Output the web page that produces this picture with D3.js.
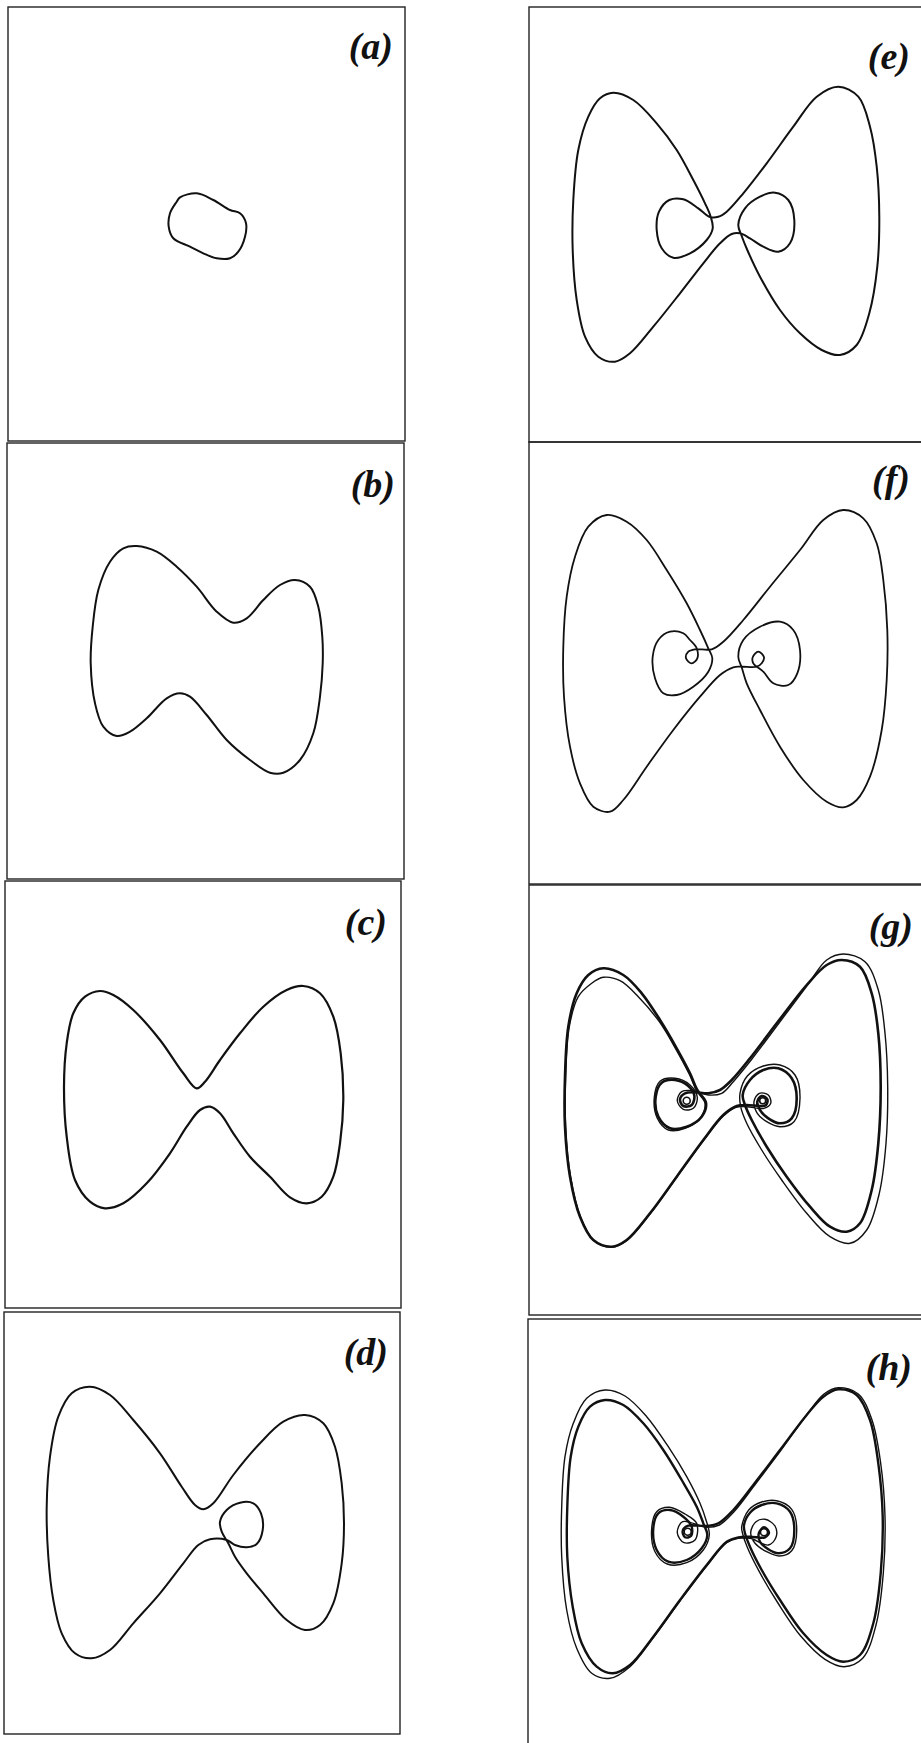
<!DOCTYPE html>
<html>
<head>
<meta charset="utf-8">
<script src="https://cdn.jsdelivr.net/npm/d3@7"></script>
<style>
  body { margin: 0; background: #fff; }
  svg { display: block; }
</style>
</head>
<body>
<svg id="fig" width="921" height="1743"></svg>
<script>
// Phase-plane orbits, one array per panel, in state-space units (x, y), y up.
const panelLabels = ["(a)", "(b)", "(c)", "(d)", "(e)", "(f)", "(g)", "(h)"];

const orbitA = [[-0.265,0.267],[-0.098,0.307],[0.068,0.24],[0.235,0.14],[0.335,0.107],[0.395,0.007],
  [0.385,-0.127],[0.318,-0.277],[0.235,-0.343],[0.102,-0.343],[-0.032,-0.293],[-0.165,-0.227],
  [-0.332,-0.143],[-0.378,-0.027],[-0.365,0.107],[-0.298,0.223]];

const orbitB = [[-0.688,1.15],[-0.488,1.093],[-0.288,0.943],[-0.088,0.743],[0.112,0.493],[0.278,0.383],
  [0.412,0.427],[0.578,0.61],[0.745,0.76],[0.895,0.81],[1.045,0.743],[1.128,0.543],[1.168,0.243],
  [1.172,-0.023],[1.145,-0.357],[1.078,-0.723],[0.945,-0.99],[0.778,-1.117],[0.645,-1.117],[0.445,-0.99],
  [0.212,-0.79],[0.012,-0.54],[-0.155,-0.357],[-0.255,-0.323],[-0.388,-0.373],[-0.588,-0.573],
  [-0.755,-0.707],[-0.888,-0.75],[-1.022,-0.657],[-1.105,-0.423],[-1.148,-0.023],[-1.128,0.343],
  [-1.072,0.71],[-0.955,0.993],[-0.822,1.127]];

const orbitC = [[-0.063,0.062],[-0.197,0.212],[-0.43,0.545],[-0.697,0.845],[-0.897,0.995],[-1.03,1.035],
  [-1.18,0.978],[-1.297,0.812],[-1.363,0.512],[-1.39,0.078],[-1.363,-0.422],[-1.28,-0.855],[-1.13,-1.072],
  [-0.98,-1.138],[-0.797,-1.088],[-0.563,-0.888],[-0.33,-0.588],[-0.163,-0.322],[-0.03,-0.155],
  [0.07,-0.122],[0.17,-0.188],[0.303,-0.388],[0.47,-0.622],[0.67,-0.822],[0.87,-1.028],[1.037,-1.088],
  [1.187,-1.022],[1.303,-0.822],[1.37,-0.488],[1.403,-0.055],[1.377,0.412],[1.303,0.778],[1.17,1.012],
  [1.003,1.085],[0.837,1.045],[0.603,0.878],[0.37,0.612],[0.17,0.345],[0.02,0.128]];

const orbitD = [[-1.12,1.363],[-0.92,1.28],[-0.687,1.03],[-0.42,0.697],[-0.203,0.363],[-0.07,0.18],
  [0.013,0.137],[0.113,0.197],[0.313,0.48],[0.58,0.797],[0.813,1.013],[1.03,1.08],[1.213,0.997],
  [1.33,0.763],[1.397,0.397],[1.42,-0.003],[1.397,-0.403],[1.313,-0.803],[1.18,-1.02],[1.03,-1.07],
  [0.847,-0.97],[0.613,-0.703],[0.447,-0.503],[0.33,-0.337],[0.263,-0.203],[0.197,-0.087],[0.18,0.013],
  [0.247,0.13],[0.38,0.203],[0.513,0.197],[0.59,0.097],[0.607,-0.07],[0.547,-0.21],[0.447,-0.243],
  [0.33,-0.22],[0.247,-0.17],[0.08,-0.163],[-0.037,-0.22],[-0.187,-0.403],[-0.42,-0.703],[-0.687,-1.003],
  [-0.92,-1.27],[-1.103,-1.353],[-1.27,-1.303],[-1.403,-1.103],[-1.487,-0.77],[-1.537,-0.337],
  [-1.553,0.163],[-1.52,0.663],[-1.437,1.063],[-1.303,1.297]];

const orbitE = [[-1.142,1.318],[-0.942,1.245],[-0.708,1.012],[-0.508,0.745],[-0.342,0.445],[-0.225,0.212],
  [-0.168,0.078],[-0.148,-0.038],[-0.208,-0.155],[-0.375,-0.288],[-0.542,-0.332],[-0.658,-0.238],
  [-0.708,-0.055],[-0.685,0.128],[-0.582,0.245],[-0.442,0.252],[-0.292,0.162],[-0.182,0.078],
  [-0.092,0.078],[-0.008,0.128],[0.158,0.312],[0.392,0.612],[0.658,0.978],[0.892,1.278],[1.108,1.378],
  [1.308,1.278],[1.425,0.978],[1.492,0.578],[1.518,0.078],[1.498,-0.422],[1.418,-0.888],[1.292,-1.205],
  [1.125,-1.305],[0.942,-1.255],[0.725,-1.088],[0.525,-0.855],[0.325,-0.522],[0.198,-0.255],
  [0.142,-0.115],[0.108,-0.005],[0.175,0.162],[0.325,0.278],[0.475,0.318],[0.608,0.245],[0.668,0.045],
  [0.625,-0.188],[0.508,-0.272],[0.358,-0.222],[0.225,-0.138],[0.125,-0.088],[0.042,-0.095],
  [-0.075,-0.188],[-0.242,-0.388],[-0.475,-0.688],[-0.742,-1.022],[-0.975,-1.288],[-1.125,-1.372],
  [-1.292,-1.322],[-1.425,-1.122],[-1.508,-0.755],[-1.548,-0.255],[-1.542,0.245],[-1.492,0.745],
  [-1.392,1.078],[-1.275,1.262]];

const orbitF = [[-1.208,1.48],[-1.008,1.413],[-0.808,1.23],[-0.608,0.93],[-0.408,0.597],[-0.275,0.33],
  [-0.192,0.147],[-0.152,0.047],[-0.192,-0.087],[-0.342,-0.237],[-0.508,-0.32],[-0.642,-0.303],
  [-0.725,-0.153],[-0.748,0.063],[-0.692,0.23],[-0.575,0.313],[-0.442,0.297],[-0.375,0.23],
  [-0.308,0.147],[-0.302,0.047],[-0.358,-0.003],[-0.415,0.047],[-0.392,0.113],[-0.325,0.137],
  [-0.158,0.137],[-0.042,0.213],[0.158,0.43],[0.425,0.763],[0.725,1.13],[0.958,1.43],[1.158,1.53],
  [1.358,1.447],[1.492,1.197],[1.558,0.83],[1.598,0.33],[1.592,-0.17],[1.542,-0.67],[1.425,-1.137],
  [1.292,-1.37],[1.158,-1.443],[0.992,-1.387],[0.758,-1.17],[0.525,-0.837],[0.325,-0.47],[0.192,-0.203],
  [0.142,-0.043],[0.108,0.063],[0.158,0.23],[0.325,0.363],[0.525,0.413],[0.658,0.33],[0.725,0.13],
  [0.698,-0.103],[0.608,-0.22],[0.458,-0.203],[0.358,-0.087],[0.258,-0.003],[0.252,0.057],[0.308,0.113],
  [0.365,0.057],[0.342,-0.003],[0.292,-0.037],[0.142,-0.037],[0.058,-0.043],[-0.075,-0.12],
  [-0.275,-0.337],[-0.542,-0.67],[-0.808,-1.037],[-1.042,-1.37],[-1.175,-1.487],[-1.342,-1.437],
  [-1.475,-1.203],[-1.575,-0.837],[-1.635,-0.337],[-1.642,0.163],[-1.608,0.663],[-1.525,1.063],
  [-1.392,1.363]];

// Two strands of the orbit in (g)
const orbitG1 = [[-1.242,1.317],[-1.042,1.25],[-0.858,1.067],[-0.675,0.8],[-0.508,0.517],[-0.375,0.267],
  [-0.302,0.1],[-0.215,-0.027],[-0.258,-0.167],[-0.408,-0.267],[-0.575,-0.283],[-0.692,-0.167],
  [-0.718,0.033],[-0.658,0.173],[-0.525,0.2],[-0.392,0.14],[-0.332,0.047],[-0.358,-0.05],[-0.442,-0.06],
  [-0.475,0.007],[-0.425,0.067],[-0.325,0.077],[-0.192,0.067],[-0.075,0.1],[0.042,0.2],[0.225,0.417],
  [0.492,0.767],[0.792,1.15],[0.992,1.35],[1.142,1.4],[1.325,1.333],[1.442,1.067],[1.508,0.667],
  [1.532,0.133],[1.508,-0.433],[1.442,-0.9],[1.325,-1.233],[1.192,-1.317],[1.025,-1.267],[0.825,-1.067],
  [0.592,-0.767],[0.392,-0.467],[0.242,-0.2],[0.175,-0.05],[0.152,0.05],[0.225,0.2],[0.358,0.3],
  [0.508,0.317],[0.642,0.217],[0.692,0.017],[0.642,-0.183],[0.525,-0.233],[0.408,-0.183],[0.325,-0.1],
  [0.298,-0.017],[0.342,0.04],[0.398,0.007],[0.385,-0.05],[0.325,-0.06],[0.192,-0.05],[0.092,-0.06],
  [-0.042,-0.15],[-0.242,-0.4],[-0.508,-0.767],[-0.775,-1.133],[-1.008,-1.4],[-1.158,-1.467],
  [-1.342,-1.4],[-1.475,-1.167],[-1.575,-0.767],[-1.625,-0.267],[-1.625,0.233],[-1.592,0.733],
  [-1.508,1.067],[-1.392,1.25]];

const orbitG2 = [[-1.242,1.227],[-1.075,1.193],[-0.892,1.033],[-0.682,0.783],[-0.515,0.507],[-0.382,0.257],
  [-0.308,0.09],[-0.225,-0.033],[-0.275,-0.183],[-0.425,-0.283],[-0.592,-0.3],[-0.702,-0.183],
  [-0.732,0.027],[-0.675,0.187],[-0.525,0.217],[-0.375,0.15],[-0.302,0.027],[-0.342,-0.083],[-0.442,-0.093],
  [-0.502,-0.007],[-0.458,0.083],[-0.342,0.093],[-0.192,0.05],[-0.058,0.067],[0.058,0.183],[0.242,0.407],
  [0.508,0.76],[0.808,1.16],[0.992,1.4],[1.158,1.46],[1.375,1.383],[1.508,1.1],[1.575,0.667],
  [1.602,0.133],[1.585,-0.433],[1.518,-0.933],[1.392,-1.3],[1.225,-1.433],[1.025,-1.367],[0.792,-1.133],
  [0.542,-0.8],[0.342,-0.5],[0.192,-0.233],[0.132,-0.067],[0.125,0.067],[0.198,0.24],[0.358,0.34],
  [0.525,0.35],[0.675,0.25],[0.725,0.017],[0.665,-0.217],[0.525,-0.267],[0.392,-0.217],[0.298,-0.133],
  [0.265,-0.017],[0.318,0.067],[0.408,0.05],[0.432,-0.033],[0.365,-0.083],[0.192,-0.067],[0.085,-0.073],
  [-0.042,-0.16],[-0.242,-0.407],[-0.508,-0.773],[-0.775,-1.14],[-1.008,-1.407],[-1.158,-1.473],
  [-1.335,-1.407],[-1.468,-1.173],[-1.568,-0.773],[-1.618,-0.267],[-1.618,0.233],[-1.582,0.733],
  [-1.492,1.033],[-1.358,1.167]];

// Two strands of the orbit in (h)
const orbitH1 = [[-1.215,1.32],[-1.032,1.27],[-0.832,1.087],[-0.632,0.82],[-0.448,0.52],[-0.298,0.253],
  [-0.232,0.087],[-0.192,-0.03],[-0.248,-0.163],[-0.398,-0.28],[-0.582,-0.297],[-0.698,-0.18],
  [-0.732,0.037],[-0.682,0.187],[-0.565,0.22],[-0.432,0.153],[-0.348,0.053],[-0.355,-0.04],[-0.415,-0.053],
  [-0.438,0.013],[-0.382,0.063],[-0.198,0.06],[-0.082,0.087],[0.068,0.22],[0.268,0.47],[0.535,0.82],
  [0.802,1.17],[0.968,1.353],[1.118,1.427],[1.302,1.37],[1.435,1.12],[1.518,0.687],[1.562,0.153],
  [1.542,-0.413],[1.468,-0.913],[1.335,-1.23],[1.168,-1.297],[1.002,-1.23],[0.768,-1.013],[0.535,-0.68],
  [0.352,-0.38],[0.235,-0.147],[0.185,-0.013],[0.175,0.07],[0.235,0.193],[0.352,0.27],[0.502,0.287],
  [0.635,0.203],[0.678,0.02],[0.635,-0.163],[0.518,-0.213],[0.418,-0.173],[0.335,-0.097],[0.325,-0.007],
  [0.375,0.047],[0.425,-0.003],[0.385,-0.053],[0.235,-0.047],[0.118,-0.053],[0.002,-0.097],[-0.198,-0.33],
  [-0.465,-0.68],[-0.732,-1.047],[-0.965,-1.33],[-1.138,-1.413],[-1.298,-1.347],[-1.448,-1.113],
  [-1.538,-0.747],[-1.592,-0.247],[-1.592,0.253],[-1.558,0.753],[-1.482,1.053],[-1.365,1.253]];

const orbitH2 = [[-1.215,1.42],[-1.015,1.36],[-0.798,1.153],[-0.582,0.853],[-0.398,0.553],[-0.265,0.287],
  [-0.205,0.12],[-0.172,-0.03],[-0.232,-0.18],[-0.398,-0.307],[-0.592,-0.32],[-0.715,-0.197],
  [-0.748,0.037],[-0.698,0.203],[-0.572,0.247],[-0.415,0.18],[-0.298,0.087],[-0.315,-0.08],[-0.425,-0.107],
  [-0.492,-0.007],[-0.438,0.103],[-0.198,0.047],[-0.072,0.07],[0.075,0.203],[0.275,0.46],[0.542,0.813],
  [0.808,1.18],[0.975,1.38],[1.118,1.443],[1.318,1.38],[1.455,1.12],[1.542,0.687],[1.585,0.153],
  [1.568,-0.413],[1.495,-0.93],[1.362,-1.263],[1.175,-1.347],[0.985,-1.273],[0.742,-1.04],[0.508,-0.7],
  [0.328,-0.397],[0.208,-0.153],[0.162,-0.02],[0.152,0.053],[0.222,0.22],[0.352,0.3],[0.502,0.313],
  [0.652,0.227],[0.702,0.02],[0.652,-0.187],[0.528,-0.24],[0.402,-0.197],[0.285,-0.113],[0.242,-0.007],
  [0.295,0.103],[0.385,0.127],[0.485,0.06],[0.495,-0.053],[0.418,-0.13],[0.235,-0.063],[0.118,-0.063],
  [0.002,-0.107],[-0.198,-0.34],[-0.465,-0.69],[-0.732,-1.057],[-0.965,-1.347],[-1.165,-1.463],
  [-1.348,-1.413],[-1.498,-1.163],[-1.598,-0.78],[-1.648,-0.247],[-1.648,0.253],[-1.615,0.753],
  [-1.532,1.087],[-1.398,1.337]];

// Innermost turns of the spirals around the two foci: [x, y, radius]
const spiralG = [[-0.408,-0.007,0.035],[0.352,-0.007,0.03]];
const spiralH = [[-0.388,0.003,0.035],[0.375,-0.003,0.035]];

// Page layout: frame box, origin of the state plane, label anchor
const panels = [
  { label: panelLabels[0], frame: [8, 7, 405, 441],      origin: [206.5, 224],  labelAt: [393, 59],
    strands: [{ data: orbitA, w: 2 }], rings: [] },
  { label: panelLabels[1], frame: [7, 443, 404, 879],    origin: [205.5, 661],  labelAt: [395, 497],
    strands: [{ data: orbitB, w: 2 }], rings: [] },
  { label: panelLabels[2], frame: [5, 881, 401, 1308],   origin: [203, 1094.5], labelAt: [387, 935],
    strands: [{ data: orbitC, w: 2.2 }], rings: [] },
  { label: panelLabels[3], frame: [4, 1312, 400, 1734],  origin: [202, 1523],   labelAt: [388, 1365],
    strands: [{ data: orbitD, w: 2 }], rings: [] },
  { label: panelLabels[4], frame: [529, 7, 926, 442],    origin: [727.5, 224.5], labelAt: [910, 69],
    strands: [{ data: orbitE, w: 2 }], rings: [] },
  { label: panelLabels[5], frame: [529, 442, 926, 884],  origin: [727.5, 663],  labelAt: [910, 492],
    strands: [{ data: orbitF, w: 1.8 }], rings: [] },
  { label: panelLabels[6], frame: [529, 885, 926, 1315], origin: [727.5, 1100], labelAt: [913, 939],
    strands: [{ data: orbitG1, w: 2.6 }, { data: orbitG2, w: 1.4 }], rings: spiralG },
  { label: panelLabels[7], frame: [528, 1319, 925, 1760], origin: [726.5, 1532], labelAt: [912, 1380],
    strands: [{ data: orbitH1, w: 2.4 }, { data: orbitH2, w: 1.4 }], rings: spiralH }
];

const svg = d3.select("#fig");
const ink = "#111";

panels.forEach(p => {
  const [x0, y0, x1, y1] = p.frame;
  const [cx, cy] = p.origin;
  const g = svg.append("g");

  g.append("rect")
    .attr("x", x0).attr("y", y0)
    .attr("width", x1 - x0).attr("height", y1 - y0)
    .attr("fill", "none").attr("stroke", "#222").attr("stroke-width", 1.4);

  // 1 state unit = 100 px in every panel
  const x = d3.scaleLinear().domain([-2, 2]).range([cx - 200, cx + 200]);
  const y = d3.scaleLinear().domain([-2, 2]).range([cy + 200, cy - 200]);

  const line = d3.line()
    .x(d => x(d[0])).y(d => y(d[1]))
    .curve(d3.curveCatmullRomClosed.alpha(0.5));

  g.selectAll("path.orbit").data(p.strands).join("path")
    .attr("class", "orbit")
    .attr("d", s => line(s.data))
    .attr("fill", "none")
    .attr("stroke", ink)
    .attr("stroke-width", s => s.w)
    .attr("stroke-linejoin", "round");

  g.selectAll("circle.ring").data(p.rings).join("circle")
    .attr("class", "ring")
    .attr("cx", d => x(d[0])).attr("cy", d => y(d[1]))
    .attr("r", d => x(d[2]) - x(0))
    .attr("fill", "none").attr("stroke", ink).attr("stroke-width", 1.6);

  g.append("text")
    .attr("x", p.labelAt[0]).attr("y", p.labelAt[1])
    .attr("text-anchor", "end")
    .attr("font-family", "'Liberation Serif', 'DejaVu Serif', serif")
    .attr("font-style", "italic").attr("font-weight", "bold")
    .attr("font-size", 38)
    .attr("fill", ink)
    .text(p.label);
});
</script>
</body>
</html>
